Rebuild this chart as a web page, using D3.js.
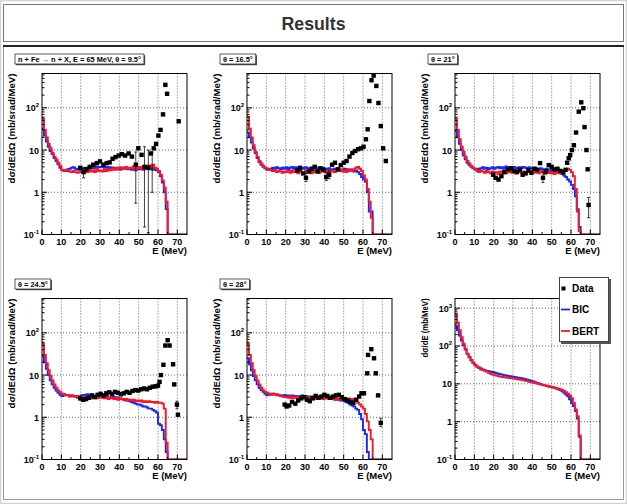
<!DOCTYPE html>
<html>
<head>
<meta charset="utf-8">
<script src="https://cdn.jsdelivr.net/npm/d3@7"></script>
<style>
body { margin: 0; background: #fff; }
svg { display: block; }
text { font-family: "Liberation Sans Narrow", "Liberation Sans", Arial, sans-serif; font-weight: bold; }
</style>
</head>
<body>
<svg id="chart" width="627" height="504"></svg>
<script>
// ---- data ----
// histograms: 1 MeV bins starting at E = 0
var bert1 = [55,30,20,14,11,8.5,7,6,5,4.2, 3.4,3.2,3.4,3.3,3.1,3.0,3.2,3.0,2.9,3.0, 3.1,2.9,3.2,3.0,3.4,3.1,3.3,3.0,3.5,3.2,
  3.3,3.1,3.4,3.2,3.5,3.3,3.6,3.4,3.8,3.5, 3.9,3.6,3.7,4.0,3.6,3.8,3.7,4.1,3.5,3.8, 4.0,3.6,3.9,4.2,3.7,4.3,3.9,4.5,3.8,3.6,
  3.2,2.6,1.9,1.3,0.6,0];
var bic1 = [32,22,16,12,9.5,8,6.5,5.5,4.6,3.8, 3.3,3.4,3.2,3.5,3.6,3.8,3.9,3.6,3.4,3.5, 3.3,3.6,3.8,3.5,3.9,4.0,3.7,4.1,3.8,4.0,
  3.9,4.2,3.8,4.0,3.7,3.9,3.6,3.8,3.5,3.7, 3.4,3.8,3.6,3.9,3.5,3.7,3.4,3.6,3.3,3.8, 3.5,3.7,3.4,3.6,3.9,3.5,3.8,3.4,3.7,3.3,
  3.0,2.4,1.7,1.0,0.4,0];
var dataE1 = [19.8,21.5,23,24.7,26.5,28.4,30,31.8,33.5,35,36.5,38,39.7,41.3,43,44.8,46.5,48.5,49.8,51.5,53,55,56.3,57.8,59,60.2,61.3,62.6,63.8,64.7,70.7];
var dataV1 = [3.8,3.0,3.5,4.0,4.5,4.9,5.4,4.5,4.9,5.1,6.2,6.8,7.4,8.0,7.4,8.3,7.0,4.5,11,7.7,4.0,3.8,8.3,11,14,22,30,70,350,215,48];
var errE1 = [21.5,48.5,53,55,57];
var errLo1 = [2.2,0.55,0.15,0.11,1.0];
var errHi1 = [3.8,9,12,10,9];

var bert2 = [62,32,20,13,9,7,5.5,4.8,4.2,3.8, 3.6,3.5,3.3,3.2,3.4,3.0,3.2,3.1,2.9,3.1, 3.0,3.2,2.9,3.3,3.0,3.1,2.8,3.2,3.0,2.9,
  3.3,3.0,3.1,2.8,3.2,3.0,3.3,2.9,3.1,3.4, 3.0,3.2,2.9,3.3,3.1,3.0,3.4,3.2,3.5,3.1, 3.3,3.0,3.4,3.2,3.5,3.3,3.8,4.0,3.6,3.2,
  2.5,2.0,1.2,0.6,0.25,0];
var bic2 = [26,20,15,11,8.5,6.5,5.2,4.5,4.0,3.7, 3.4,3.6,3.5,3.8,3.6,3.9,3.7,3.5,3.8,3.6, 3.9,3.5,3.8,4.0,3.6,3.9,3.7,4.1,3.8,3.6,
  3.9,3.7,3.5,3.8,3.6,3.9,3.4,3.7,3.5,3.8, 3.6,3.3,3.7,3.5,3.4,3.6,3.3,3.5,3.2,3.4, 3.6,3.3,3.5,3.2,3.4,3.1,3.3,3.0,2.7,2.3,
  2.0,1.8,1.0,0.35,0.35,0];
var dataE2 = [26,27.5,29,30.5,32,33.5,35,36.5,38,39.5,41,42.5,44,45.5,47,48.5,50,51.5,53,54.5,56,57.5,59,60.3,61.5,62.4,63.3,64.4,65.5,66.9,68,69.2,70.4,71.8];
var dataV2 = [3.3,3.7,2.8,2.2,3.1,3.6,4.0,3.1,3.7,3.4,2.3,2.6,4.5,5.0,3.5,4.4,5.0,5.5,7.0,8.5,9.5,10.5,11,12,18,31,145,450,580,330,130,37,11,5.5];
var errE2 = [30.5,41,42.5];
var errLo2 = [1.8,1.9,2.1];
var errHi2 = [2.8,2.9,3.2];

var bert3 = [55,30,18,12,9,7,5.5,4.8,4.2,3.8, 3.5,3.2,3.0,3.3,3.1,2.9,3.2,3.0,2.8,3.1, 2.9,3.0,2.7,3.1,2.9,3.2,2.8,3.0,3.3,2.9,
  3.1,2.8,3.0,3.2,2.9,3.1,2.7,3.0,3.2,2.8, 3.0,2.9,3.1,2.8,3.0,3.2,2.7,2.9,3.1,2.8, 3.0,2.7,2.9,3.1,2.8,3.0,3.3,3.5,3.6,3.4,
  3.0,2.4,1.2,0.35,0.12,0];
var bic3 = [28,20,14,10,7.5,6,5,4.4,4.0,3.7, 3.5,3.6,3.4,3.7,3.9,3.6,3.8,3.5,3.7,3.9, 3.6,3.8,4.0,3.7,3.9,3.6,4.1,3.8,3.9,3.7,
  4.0,3.8,3.6,3.9,3.7,4.0,3.8,3.6,3.9,3.7, 3.5,3.8,3.6,3.4,3.7,3.5,3.3,3.6,3.4,3.2, 3.4,3.1,2.9,3.0,2.8,2.7,2.5,2.3,2.0,1.8,
  1.5,1.2,0.8,0.4,0.15,0];
var dataE3 = [19.8,21,22.5,24,25.5,27.5,29,30.5,32,33.5,35,36.5,38,39.5,41,42.5,44,45.5,47,48.5,50,51.5,53,54.5,56,57.2,58,58.8,59.6,60.5,61.5,62.6,64.0,65.3,66.4,67.0,68.0,68.6,69.1];
var dataV3 = [2.6,2.2,2.0,2.4,3.0,3.5,3.7,3.2,3.0,3.4,2.6,2.8,3.3,2.9,3.6,3.4,4.9,2.2,3.1,4.4,4.0,3.5,3.6,3.2,3.0,3.4,5.0,6.4,7.6,10,13,26,81,135,98,35,10,3.5,0.5];
var errE3 = [45.5,69.1];
var errLo3 = [1.7,0.25];
var errHi3 = [3.0,0.75];

var bert4 = [55,30,19,13,9.5,7.5,6,5,4.3,3.9, 3.6,3.5,3.3,3.4,3.2,3.3,3.1,3.0,3.2,2.9, 3.0,2.8,3.0,2.9,3.1,2.8,3.0,2.9,2.8,3.0,
  2.9,3.0,2.8,2.9,2.7,2.9,2.8,2.7,2.9,2.6, 2.8,2.7,2.6,2.7,2.5,2.6,2.5,2.6,2.4,2.5, 2.4,2.5,2.3,2.4,2.3,2.4,2.3,2.3,2.2,2.3,
  2.2,2.2,2.1,1.6,0.25,0];
var bic4 = [28,20,14,10,7.5,6,5,4.3,3.8,3.4, 3.2,3.5,3.3,3.4,3.1,3.3,3.2,3.0,2.9,3.1, 3.3,3.4,3.2,3.5,3.3,3.4,3.1,3.3,3.2,3.0,
  3.2,3.1,3.0,3.2,2.9,3.0,3.1,2.8,3.0,2.9, 2.8,2.7,2.6,2.5,2.6,2.4,2.3,2.2,2.1,2.0, 2.0,1.9,1.8,1.8,1.7,1.6,1.6,1.5,1.4,1.3,
  0.7,0.65,0.5,0.3,0.15,0];
var dataE4 = [19.8,21.3,22.8,24.3,25.8,27.3,28.8,30.3,31.8,33.3,34.8,36.3,37.8,39.3,40.8,42.3,43.8,45.3,46.8,48.3,49.8,51.3,52.8,54.3,55.8,57.3,58.8,60.0,60.8,61.5,62.8,63.8,65.0,66.0,67.8,68.4,69.8,70.3];
var dataV4 = [2.8,2.6,2.7,2.9,3.3,3.0,3.4,3.6,3.3,3.7,3.9,3.6,4.0,3.8,3.5,3.7,4.0,3.8,4.2,4.4,4.3,4.6,4.8,4.6,5.0,5.3,5.4,5.6,6.9,10,17.5,50,67,50,18,6,2,1.15];
var errE4 = [69.8];
var errLo4 = [1.6];
var errHi4 = [2.4];

var bert5 = [55,30,19,13,9.5,7.5,6,5,4.4,4.0, 3.8,3.6,3.5,3.6,3.4,3.5,3.3,3.2,3.1,3.0, 3.0,2.9,3.1,2.8,3.0,2.9,3.1,2.8,3.0,2.9,
  2.8,3.0,2.9,2.8,3.0,2.7,2.9,2.8,3.0,2.7, 2.9,2.8,2.7,2.9,2.8,2.6,2.8,2.7,2.6,2.8, 2.7,2.6,2.8,2.7,2.5,2.7,2.5,2.2,2.0,1.8,
  1.6,1.2,0.8,0.5,0.3,0];
var bic5 = [25,18,13,9.5,7.5,6,5,4.4,4.0,3.6, 3.3,3.5,3.4,3.6,3.5,3.3,3.4,3.2,3.3,3.4, 3.2,3.3,3.1,3.3,3.2,3.0,3.2,3.1,3.3,3.0,
  3.2,3.1,2.9,3.1,3.0,2.9,3.1,3.0,2.8,3.0, 2.9,2.8,3.0,2.7,2.9,2.8,2.6,2.7,2.5,2.6, 2.4,2.3,2.2,2.0,1.9,1.8,1.6,1.5,1.2,0.9,
  0.5,0.4,0.15,0];
var dataE5 = [19.5,20.5,21.8,23.3,25,26.5,28,29.5,31,32.5,34,35.5,37,38.5,40,41.5,43,44.5,46,47.5,49,50.5,52,53.5,55,56.5,58,59.2,60.5,62.2,62.6,64.3,65.7,66.6,67.8,69.2];
var dataV5 = [2.0,1.8,1.9,2.3,2.1,2.5,2.8,3.0,2.6,2.4,2.8,3.2,2.9,3.1,3.4,3.2,2.9,3.1,3.3,3.4,3.0,2.7,2.5,2.3,2.2,2.6,3.1,3.7,3.7,11,30,41,25,11,3.3,0.74];
var errE5 = [69.2];
var errLo5 = [0.6];
var errHi5 = [0.95];

// angle-integrated spectrum
var bert6 = [690,420,260,170,115,85,63,52,42,36, 31,28,26,24,23,22,21,19.5,18.5,17.5, 17,16.5,16,15.5,15.2,15,14.7,14.4,14.2,14,
  13.8,13.5,13.2,13,12.8,12.5,12.1,11.8,11.4,11.1, 10.8,10.5,10.2,9.9,9.6,9.4,9.1,8.9,8.6,8.4, 8.2,8.0,7.7,7.4,7.2,6.9,6.5,6.0,5.5,4.9,
  4.2,3.1,2.1,1.4,0.43,0];
var bic6 = [350,260,190,140,105,80,62,50,42,36, 32,29,27,25.5,24,23,22,21.5,21,20.5, 20,19.2,18.5,18,17.5,17,16.6,16.2,15.9,15.6,
  15.3,15,14.6,14.3,14,13.6,13.2,12.8,12.4,12, 11.5,11,10.6,10.2,9.8,9.4,9.1,8.8,8.5,8.3, 8.1,7.8,7.5,7.2,6.8,6.3,5.8,5.2,4.7,3.9,
  3.1,2.6,1.9,1.2,0.4,0];

var panelLabels = ["n + Fe \u2192 n + X,  E = 65 MeV, \u03B8 = 9.5\u00B0", "\u03B8 = 16.5\u00B0", "\u03B8 = 21\u00B0", "\u03B8 = 24.5\u00B0", "\u03B8 = 28\u00B0", ""];
var xTickValues = [0, 10, 20, 30, 40, 50, 60, 70];
var legendNames = ["Data", "BIC", "BERT"];

var panels = [
  {label: panelLabels[0], dE: dataE1, dV: dataV1, eE: errE1, eLo: errLo1, eHi: errHi1, bic: bic1, bert: bert1, ymax: 650, ytitle: "d\u03C3/dEd\u03A9 (mb/srad/MeV)"},
  {label: panelLabels[1], dE: dataE2, dV: dataV2, eE: errE2, eLo: errLo2, eHi: errHi2, bic: bic2, bert: bert2, ymax: 650, ytitle: "d\u03C3/dEd\u03A9 (mb/srad/MeV)"},
  {label: panelLabels[2], dE: dataE3, dV: dataV3, eE: errE3, eLo: errLo3, eHi: errHi3, bic: bic3, bert: bert3, ymax: 650, ytitle: "d\u03C3/dEd\u03A9 (mb/srad/MeV)"},
  {label: panelLabels[3], dE: dataE4, dV: dataV4, eE: errE4, eLo: errLo4, eHi: errHi4, bic: bic4, bert: bert4, ymax: 650, ytitle: "d\u03C3/dEd\u03A9 (mb/srad/MeV)"},
  {label: panelLabels[4], dE: dataE5, dV: dataV5, eE: errE5, eLo: errLo5, eHi: errHi5, bic: bic5, bert: bert5, ymax: 650, ytitle: "d\u03C3/dEd\u03A9 (mb/srad/MeV)"},
  {label: panelLabels[5], dE: [], dV: [], eE: [], eLo: [], eHi: [], bic: bic6, bert: bert6, ymax: 1800, ytitle: "d\u03C3/dE (mb/MeV)"}
];

// ---- layout ----
var svg = d3.select("#chart");
var colLeft = [42, 247, 455];
var rowTop = [73.5, 298.5];
var fw = 145, fh = 161;

svg.append("rect").attr("x", 0.5).attr("y", 0.5).attr("width", 626).attr("height", 503)
  .attr("fill", "#fff").attr("stroke", "#d4d4d4").attr("stroke-width", 1.5);

// header box
svg.append("rect").attr("x", 3.5).attr("y", 4.5).attr("width", 620).attr("height", 37)
  .attr("fill", "#fff").attr("stroke", "#777");
svg.append("text").attr("x", 313.5).attr("y", 30).attr("text-anchor", "middle")
  .attr("font-size", 19).attr("fill", "#333").attr("textLength", 64).attr("lengthAdjust", "spacingAndGlyphs")
  .style("font-family", "'Liberation Sans', Arial, sans-serif")
  .text("Results");

// main box
svg.append("rect").attr("x", 3.5).attr("y", 45.5).attr("width", 620).attr("height", 454)
  .attr("fill", "#fff").attr("stroke", "#999");
svg.append("line").attr("x1", 3).attr("x2", 624).attr("y1", 46).attr("y2", 46)
  .attr("stroke", "#222").attr("stroke-width", 2);

function tickLabel(sel, v) {
  var e = Math.round(Math.log10(v));
  if (e === 0) { sel.text("1"); return; }
  if (e === 1) { sel.text("10"); return; }
  sel.append("tspan").text("10");
  sel.append("tspan").attr("dy", -4).attr("font-size", 6).text(String(e));
}

panels.forEach(function(p, i) {
  var left = colLeft[i % 3], top = rowTop[Math.floor(i / 3)];
  var x = d3.scaleLinear().domain([0, 75]).range([left, left + fw]);
  var y = d3.scaleLog().domain([0.1, p.ymax]).range([top + fh, top]).clamp(true);
  var g = svg.append("g");

  var decades = [0.1, 1, 10, 100, 1000].filter(function(d) { return d <= p.ymax; });

  // grid
  g.selectAll(".gx").data(xTickValues.slice(1)).enter().append("line")
    .attr("x1", function(d) { return x(d); }).attr("x2", function(d) { return x(d); })
    .attr("y1", top).attr("y2", top + fh)
    .attr("stroke", "#222").attr("stroke-width", 0.7).attr("stroke-dasharray", "1,2");
  g.selectAll(".gy").data(decades.slice(1)).enter().append("line")
    .attr("x1", left).attr("x2", left + fw)
    .attr("y1", function(d) { return y(d); }).attr("y2", function(d) { return y(d); })
    .attr("stroke", "#222").attr("stroke-width", 0.7).attr("stroke-dasharray", "1,2");

  // histograms
  var clipId = "clip" + i;
  svg.append("clipPath").attr("id", clipId).append("rect")
    .attr("x", left).attr("y", top - 1).attr("width", fw).attr("height", fh + 1);
  var line = d3.line()
    .x(function(d) { return x(d[0]); })
    .y(function(d) { return y(Math.max(d[1], 0.1)); })
    .curve(d3.curveStepAfter);
  function histPts(vals) {
    var pts = vals.map(function(v, k) { return [k, v]; });
    pts.push([vals.length, 0]);
    pts.push([75, 0]);
    return pts;
  }
  var hg = g.append("g").attr("clip-path", "url(#" + clipId + ")");
  hg.append("path").attr("d", line(histPts(p.bic)))
    .attr("fill", "none").attr("stroke", "#1428ff").attr("stroke-width", 1.9);
  hg.append("path").attr("d", line(histPts(p.bert)))
    .attr("fill", "none").attr("stroke", "#ff1420").attr("stroke-width", 1.9);

  // error bars
  p.eE.forEach(function(e, k) {
    var xx = x(e);
    g.append("line").attr("x1", xx).attr("x2", xx).attr("y1", y(p.eLo[k])).attr("y2", y(p.eHi[k]))
      .attr("stroke", "#111").attr("stroke-width", 0.8);
    [p.eLo[k], p.eHi[k]].forEach(function(v) {
      g.append("line").attr("x1", xx - 1.5).attr("x2", xx + 1.5).attr("y1", y(v)).attr("y2", y(v))
        .attr("stroke", "#111").attr("stroke-width", 0.8);
    });
  });

  // data points
  g.selectAll(".pt").data(p.dE).enter().append("rect")
    .attr("x", function(d) { return x(d) - 2.2; })
    .attr("y", function(d, k) { return y(p.dV[k]) - 2.2; })
    .attr("width", 4.4).attr("height", 4.4).attr("fill", "#000");

  // frame
  g.append("rect").attr("x", left).attr("y", top).attr("width", fw).attr("height", fh)
    .attr("fill", "none").attr("stroke", "#000").attr("stroke-width", 1);

  // x ticks
  var xMinor = [5, 15, 25, 35, 45, 55, 65];
  g.selectAll(".xt").data(xTickValues).enter().append("line")
    .attr("x1", function(d) { return x(d); }).attr("x2", function(d) { return x(d); })
    .attr("y1", top + fh).attr("y2", top + fh - 5).attr("stroke", "#000");
  g.selectAll(".xm").data(xMinor).enter().append("line")
    .attr("x1", function(d) { return x(d); }).attr("x2", function(d) { return x(d); })
    .attr("y1", top + fh).attr("y2", top + fh - 2.5).attr("stroke", "#000");
  g.selectAll(".xl").data(xTickValues).enter().append("text")
    .attr("x", function(d) { return x(d); }).attr("y", top + fh + 10)
    .attr("text-anchor", "middle").attr("font-size", 9).text(function(d) { return d; });
  g.append("text").attr("x", left + fw).attr("y", top + fh + 19.5)
    .attr("text-anchor", "end").attr("font-size", 9.5).text("E (MeV)");

  // y ticks
  var yMinor = [];
  decades.forEach(function(d) {
    [2, 3, 4, 5, 6, 7, 8, 9].forEach(function(k) { if (d * k <= p.ymax) yMinor.push(d * k); });
  });
  g.selectAll(".yt").data(decades).enter().append("line")
    .attr("x1", left).attr("x2", left + 5)
    .attr("y1", function(d) { return y(d); }).attr("y2", function(d) { return y(d); }).attr("stroke", "#000");
  g.selectAll(".ym").data(yMinor).enter().append("line")
    .attr("x1", left).attr("x2", left + 2.5)
    .attr("y1", function(d) { return y(d); }).attr("y2", function(d) { return y(d); }).attr("stroke", "#000");
  g.selectAll(".yl").data(decades).enter().append("text")
    .attr("x", left - 3).attr("y", function(d) { return y(d) + 3.5; })
    .attr("text-anchor", "end").attr("font-size", 9)
    .each(function(d) { tickLabel(d3.select(this), d); });

  // y title
  var tx = left - 27;
  g.append("text").attr("transform", "translate(" + tx + "," + top + ") rotate(-90)")
    .attr("text-anchor", "end").attr("font-size", 9.5)
    .attr("textLength", i === 5 ? 59 : 110).attr("lengthAdjust", "spacingAndGlyphs")
    .text(p.ytitle);

  // label box
  if (p.label) {
    var bx = left - 27, by = top - 19.5;
    var lt = g.append("text").attr("x", bx + 3).attr("y", by + 7.7).attr("font-size", 7.4).text(p.label);
    var tw = lt.node().getComputedTextLength();
    g.insert("rect", "text").attr("x", bx + 1.2).attr("y", by + 1.2).attr("width", tw + 6).attr("height", 10)
      .attr("fill", "#444");
    g.insert("rect", "text").attr("x", bx).attr("y", by).attr("width", tw + 6).attr("height", 10)
      .attr("fill", "#fff").attr("stroke", "#333").attr("stroke-width", 0.8);
  }
});

// legend in the last panel
var lg = svg.append("g");
lg.append("rect").attr("x", 561).attr("y", 279).attr("width", 50).attr("height", 65).attr("fill", "#555");
lg.append("rect").attr("x", 559.5).attr("y", 277.5).attr("width", 49).attr("height", 64)
  .attr("fill", "#fff").attr("stroke", "#444");
var legY = [288.5, 309.5, 331];
lg.append("rect").attr("x", 561.5).attr("y", legY[0] - 2).attr("width", 4).attr("height", 4).attr("fill", "#000");
lg.append("line").attr("x1", 561).attr("x2", 570).attr("y1", legY[1]).attr("y2", legY[1]).attr("stroke", "#1428ff").attr("stroke-width", 1.8);
lg.append("line").attr("x1", 561).attr("x2", 570).attr("y1", legY[2]).attr("y2", legY[2]).attr("stroke", "#ff1420").attr("stroke-width", 1.8);
lg.selectAll(".lt").data(legendNames).enter().append("text")
  .attr("x", 572).attr("y", function(d, k) { return legY[k] + 3.5; })
  .attr("font-size", 10).text(function(d) { return d; });
</script>
</body>
</html>
